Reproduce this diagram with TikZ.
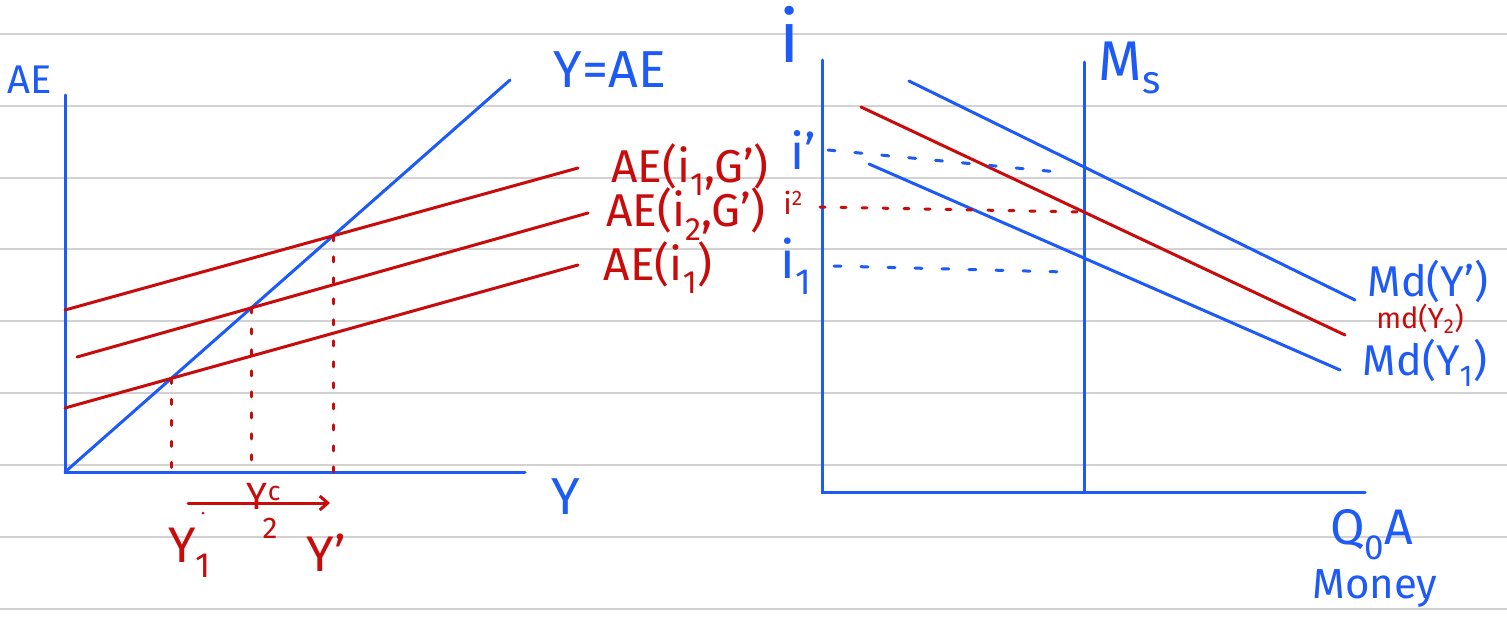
\documentclass[tikz,border=0pt]{standalone}
\usepackage{fontspec}
\setmainfont{Fira Sans}
\usetikzlibrary{arrows.meta,intersections}
\definecolor{pen}{RGB}{30,90,245}
\definecolor{ink}{RGB}{200,12,12}
\definecolor{rulegray}{RGB}{210,210,210}
\begin{document}
\begin{tikzpicture}[x=1pt,y=-1pt,
  ruleline/.style={rulegray, line width=2.5pt},
  bl/.style={pen, line width=3pt, line cap=round},
  rd/.style={ink, line width=3pt, line cap=round},
  bdot/.style={pen, line width=3pt, dash pattern=on 7pt off 20pt, line cap=round},
  rdot/.style={ink, line width=3pt, dash pattern=on 5pt off 16pt, line cap=round},
  btxt/.style={text=pen, inner sep=0pt, font=\fontsize{48}{50}\selectfont},
  rtxt/.style={text=ink, inner sep=0pt, font=\fontsize{46}{48}\selectfont}]
\useasboundingbox (0,0) rectangle (1507,616);
\fill[white] (0,0) rectangle (1507,616);
\foreach \y in {34,106,178,249,321,393,465,537,609}
  \draw[ruleline] (0,\y) -- (1507,\y);
% ---------- left graph ----------
\coordinate (O) at (65,472);
\coordinate (AEtop) at (65,95);
\coordinate (Xend) at (525,472);
\coordinate (D) at (510,80);
\draw[bl] (AEtop) -- (O) -- (Xend);
\draw[bl, name path=diag] (O) -- (D);
\coordinate (a1s) at (65,310);   \coordinate (a1e) at (578,168);
\coordinate (a2s) at (77,357);   \coordinate (a2e) at (588,213);
\coordinate (a3s) at (65,408);   \coordinate (a3e) at (578,265);
\draw[rd, name path=ae1] (a1s) -- (a1e);
\draw[rd, name path=ae2] (a2s) -- (a2e);
\draw[rd, name path=ae3] (a3s) -- (a3e);
\path[name intersections={of=diag and ae1, by=P1}];
\path[name intersections={of=diag and ae2, by=P2}];
\path[name intersections={of=diag and ae3, by=P3}];
\draw[rdot] (P3) -- (P3 |- O);
\draw[rdot] (P2) -- (P2 |- O);
\draw[rdot] (P1) -- (P1 |- O);
\node[btxt, font=\fontsize{40}{42}\selectfont] (lAE) at (30,80) {AE};
\node[btxt, font=\fontsize{52}{54}\selectfont] (lYAE) at (610,70) {Y=AE};
\node[btxt, font=\fontsize{52}{54}\selectfont] (lY) at (566,497) {Y};
\node[rtxt] (l1) at (690,170) {AE(i\textsubscript{1},G')};
\node[rtxt] (l2) at (686,214) {AE(i\textsubscript{2},G')};
\node[rtxt] (l3) at (658,268) {AE(i\textsubscript{1})};
\coordinate (ar0) at (188,503);
\coordinate (ar1) at (330,503);
\draw[rd, -{Straight Barb[length=8pt,width=14pt]}] (ar0) -- (ar1);
\node[rtxt, font=\fontsize{38}{40}\selectfont] (lYc) at (264,496) {Y\textsuperscript{c}};
\node[rtxt, font=\fontsize{30}{32}\selectfont] (l2s) at (270,528) {2};
\node[rtxt, font=\fontsize{50}{52}\selectfont] (lY1) at (190,553) {Y\textsubscript{1}};
\node[rtxt, font=\fontsize{50}{52}\selectfont] (lYp) at (326,553) {Y'};
\fill[ink] (203,513) circle (1.5pt);
% ---------- right graph ----------
\coordinate (O2) at (822,492);
\coordinate (Itop) at (822,60);
\coordinate (X2end) at (1365,492);
\draw[bl] (Itop) -- (O2) -- (X2end);
\coordinate (Ms1) at (1084,62);
\coordinate (Ms0) at (1084,492);
\draw[bl, name path=ms] (Ms1) -- (Ms0);
\coordinate (m1s) at (909,81);  \coordinate (m1e) at (1355,300);
\coordinate (m2s) at (861,107); \coordinate (m2e) at (1345,335);
\coordinate (m3s) at (869,164); \coordinate (m3e) at (1340,370);
\draw[bl, name path=md1] (m1s) -- (m1e);
\draw[rd, name path=md2] (m2s) -- (m2e);
\draw[bl, name path=md3] (m3s) -- (m3e);
\path[name intersections={of=ms and md2, by=Q2}];
\coordinate (d1s) at (828,150); \coordinate (d1e) at (1058,172);
\coordinate (d2s) at (820,207);
\coordinate (d3s) at (834,266); \coordinate (d3e) at (1065,272);
\draw[bdot] (d1s) -- (d1e);
\draw[rdot] (d2s) -- (Q2);
\draw[bdot] (d3s) -- (d3e);
\node[btxt, font=\fontsize{72}{74}\selectfont] (li) at (790,34) {i};
\node[btxt, font=\fontsize{56}{58}\selectfont] (lMs) at (1130,68) {M\textsubscript{s}};
\node[btxt, font=\fontsize{50}{52}\selectfont] (lip) at (803,150) {i'};
\node[rtxt, font=\fontsize{30}{32}\selectfont] (li2) at (793,203) {i\textsuperscript{2}};
\node[btxt, font=\fontsize{52}{54}\selectfont] (li1) at (796,266) {i\textsubscript{1}};
\node[btxt, font=\fontsize{43}{45}\selectfont] (lMd1) at (1428,281) {Md(Y')};
\node[rtxt, font=\fontsize{29}{31}\selectfont] (lMd2) at (1420,319) {md(Y\textsubscript{2})};
\node[btxt, font=\fontsize{43}{45}\selectfont] (lMd3) at (1425,363) {Md(Y\textsubscript{1})};
\node[btxt, font=\fontsize{50}{52}\selectfont] (lQ) at (1372,535) {Q\textsubscript{0}A};
\node[btxt, font=\fontsize{42}{44}\selectfont] (lMon) at (1375,588) {Money};
\end{tikzpicture}
\end{document}
